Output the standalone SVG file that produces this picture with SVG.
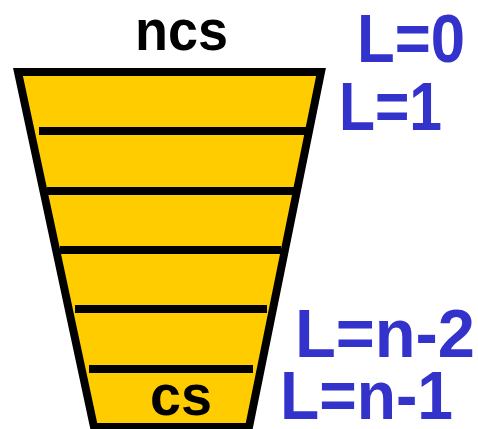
<svg xmlns="http://www.w3.org/2000/svg" width="478" height="429" viewBox="0 0 478 429">
<style>
.lbl{font-family:"Liberation Sans",Arial,sans-serif;font-weight:bold;fill:#3333CC;font-size:68px}
.blk{font-family:"Liberation Sans",Arial,sans-serif;font-weight:bold;fill:#000;font-size:58px}
.div{stroke:#000;stroke-width:8;fill:none}
</style>
<rect width="478" height="429" fill="#fff"/>
<g id="funnel">
<polygon points="18,72 321,72 249,427 94,427" fill="#FFCC00" stroke="#000" stroke-width="8" stroke-linejoin="miter"/>
<line class="div" x1="39" y1="131" x2="307" y2="131"/>
<line class="div" x1="47" y1="191" x2="294" y2="191"/>
<line class="div" x1="60" y1="250" x2="281" y2="250"/>
<line class="div" x1="75" y1="309" x2="267" y2="309"/>
<line class="div" x1="89" y1="369" x2="253" y2="369"/>
</g>
<g id="ncs"><text class="blk" x="135" y="50" textLength="93" lengthAdjust="spacingAndGlyphs">ncs</text></g>
<g id="cs"><text class="blk" x="150" y="415" textLength="62" lengthAdjust="spacingAndGlyphs">cs</text></g>
<g id="levels">
<text class="lbl" x="357" y="62" textLength="108" lengthAdjust="spacingAndGlyphs">L=0</text>
<text class="lbl" x="339" y="130" textLength="103" lengthAdjust="spacingAndGlyphs">L=1</text>
<text class="lbl" x="295" y="357" textLength="180" lengthAdjust="spacingAndGlyphs">L=n-2</text>
<text class="lbl" x="280" y="419" textLength="173" lengthAdjust="spacingAndGlyphs">L=n-1</text>
</g>
</svg>
